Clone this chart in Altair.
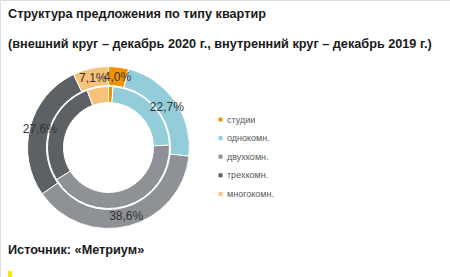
import altair as alt
import pandas as pd

categories = ["студии", "однокомн.", "двухкомн.", "трехкомн.", "многокомн."]
colors = ["#F39200", "#93CDDA", "#8E9195", "#5C6166", "#F9C27A"]
values_2020 = [4.0, 22.7, 38.6, 27.6, 7.1]
values_2019 = [1.2, 23.2, 41.8, 28.1, 5.7]
labels_2020 = ["4,0%", "22,7%", "38,6%", "27,6%", "7,1%"]

title_text = "Структура предложения по типу квартир"
subtitle_text = "(внешний круг – декабрь 2020 г., внутренний круг – декабрь 2019 г.)"
source_text = "Источник: «Метриум»"

FONT = "Liberation Sans"
CX, CY = 108.5, 147.5

rows = []
for i, c in enumerate(categories):
    rows.append({"ring": "outer", "cat": c, "order": i, "value": values_2020[i], "label": labels_2020[i]})
    rows.append({"ring": "inner", "cat": c, "order": i, "value": values_2019[i], "label": ""})
df = pd.DataFrame(rows)

color = alt.Color(
    "cat:N",
    scale=alt.Scale(domain=categories, range=colors),
    sort=categories,
    legend=alt.Legend(
        title=None,
        orient="none",
        legendX=216,
        legendY=115,
        symbolType="square",
        symbolSize=16,
        symbolStrokeWidth=0,
        labelFont=FONT,
        labelFontSize=9,
        labelColor="#595959",
        labelOffset=2,
        rowPadding=8.6,
    ),
)

base = alt.Chart(df).encode(
    theta=alt.Theta("value:Q", stack=True),
    order=alt.Order("order:Q"),
    color=color,
    x=alt.value(CX),
    y=alt.value(CY),
)

outer = base.transform_filter("datum.ring == 'outer'").mark_arc(
    radius=81, radius2=62, stroke="white", strokeWidth=1
)
inner = base.transform_filter("datum.ring == 'inner'").mark_arc(
    radius=61, radius2=45, stroke="white", strokeWidth=1
)
labels = base.transform_filter("datum.ring == 'outer'").mark_text(
    radius=71, font=FONT, fontSize=12, color="#333333"
).encode(text="label:N", color=alt.value("#333333"))

def txt(s, x, y, size=12.7, bold=True, color="#1A1A1A"):
    return alt.Chart(pd.DataFrame({"t": [s]})).mark_text(
        align="left", baseline="alphabetic", font=FONT, fontSize=size,
        fontWeight="bold" if bold else "normal", color=color
    ).encode(text="t:N", x=alt.value(x), y=alt.value(y))

marker_df = pd.DataFrame({"k": ["m"]})
marker = alt.Chart(marker_df).mark_rect(color="#FFE600").encode(
    x=alt.value(8), x2=alt.value(12), y=alt.value(271), y2=alt.value(277)
)

chart = alt.layer(
    outer, inner, labels,
    txt(title_text, 8, 18),
    txt(subtitle_text, 8, 48),
    txt(source_text, 8, 254),
    marker,
).properties(
    width=450, height=277, padding=0, autosize=alt.AutoSizeParams(type="none")
).configure_view(stroke=None).configure(background="white")

chart.save("out.html", embed_options={"renderer": "svg", "actions": False})
